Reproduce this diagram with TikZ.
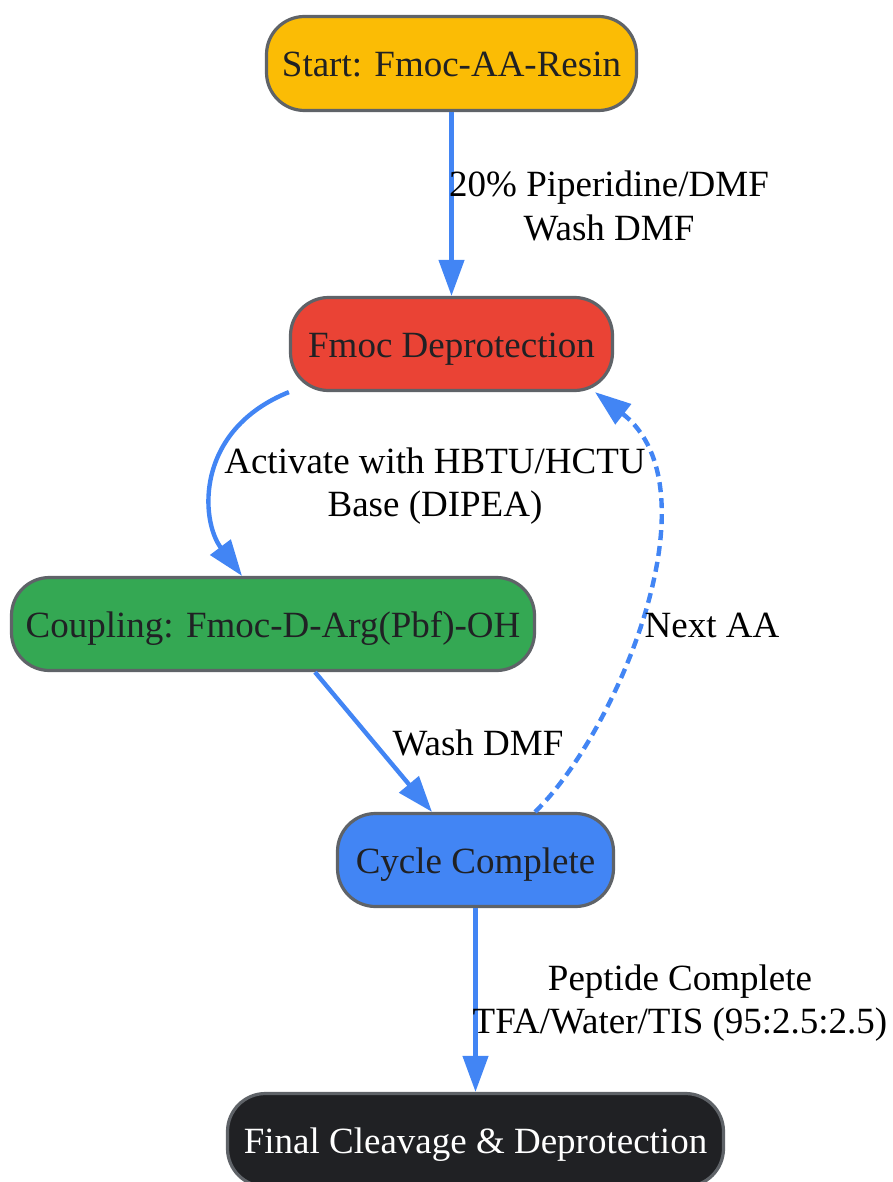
\documentclass[tikz,border=0pt]{standalone}
\usepackage{fontspec}
\setmainfont{Liberation Serif}
\usetikzlibrary{arrows.meta}
\definecolor{cyellow}{HTML}{FBBC05}
\definecolor{cred}{HTML}{EA4335}
\definecolor{cgreen}{HTML}{34A853}
\definecolor{cblue}{HTML}{4285F4}
\definecolor{cdark}{HTML}{202124}
\definecolor{cborder}{HTML}{5F6368}
\definecolor{ctext}{HTML}{202124}
\begin{document}
\begin{tikzpicture}[x=1pt,y=-1pt,
  box/.style={draw=cborder, line width=3.2pt, rounded corners=38pt, text=ctext,
    font=\fontsize{37}{43.5}\selectfont, inner sep=0pt, align=center, minimum height=93pt,
    text height=34pt, text depth=7pt},
  flow/.style={draw=cblue, line width=4.4pt, -{Triangle[length=36pt,width=25pt]}},
  lbl/.style={font=\fontsize{37}{43.5}\selectfont, align=center, text=black, inner sep=0pt}]
\useasboundingbox (0,0) rectangle (892,1182);
\node[box, fill=cyellow, minimum width=370pt, minimum height=94pt] (start) at (451.5,63.5) {Start: Fmoc-AA-Resin};
\node[box, fill=cred, minimum width=322pt] (deprot) at (451.5,344) {Fmoc Deprotection};
\node[box, fill=cgreen, minimum width=523pt] (coupling) at (273,624) {Coupling: Fmoc-D-Arg(Pbf)-OH};
\node[box, fill=cblue, minimum width=276pt] (cycle) at (475.5,860) {Cycle Complete};
\node[box, fill=cdark, text=white, minimum width=496pt] (final) at (475.5,1140) {Final Cleavage \& Deprotection};

\draw[flow] (start) -- (deprot);
\draw[flow] (deprot.south west) .. controls (195,430) and (200,520) .. ([xshift=-31pt]coupling.north);
\draw[flow] ([xshift=42pt]coupling.south) -- ([xshift=-43.5pt]cycle.north);
\draw[flow, dash pattern=on 10pt off 6pt] ([xshift=59.5pt]cycle.north) .. controls (615,735) and (720,490) .. ([xshift=143.5pt]deprot.south);
\draw[flow] (cycle) -- (final);

\node[lbl] (l1) at (609,206) {20\% Piperidine/DMF\\Wash DMF};
\node[lbl] (l2) at (435,486) {Activate with HBTU/HCTU\\Base (DIPEA)};
\node[lbl] (l3) at (478,743) {Wash DMF};
\node[lbl] (l4) at (712,625) {Next AA};
\node[lbl] (l5) at (680,1003) {Peptide Complete\\TFA/Water/TIS (95:2.5:2.5)};
\end{tikzpicture}
\end{document}
